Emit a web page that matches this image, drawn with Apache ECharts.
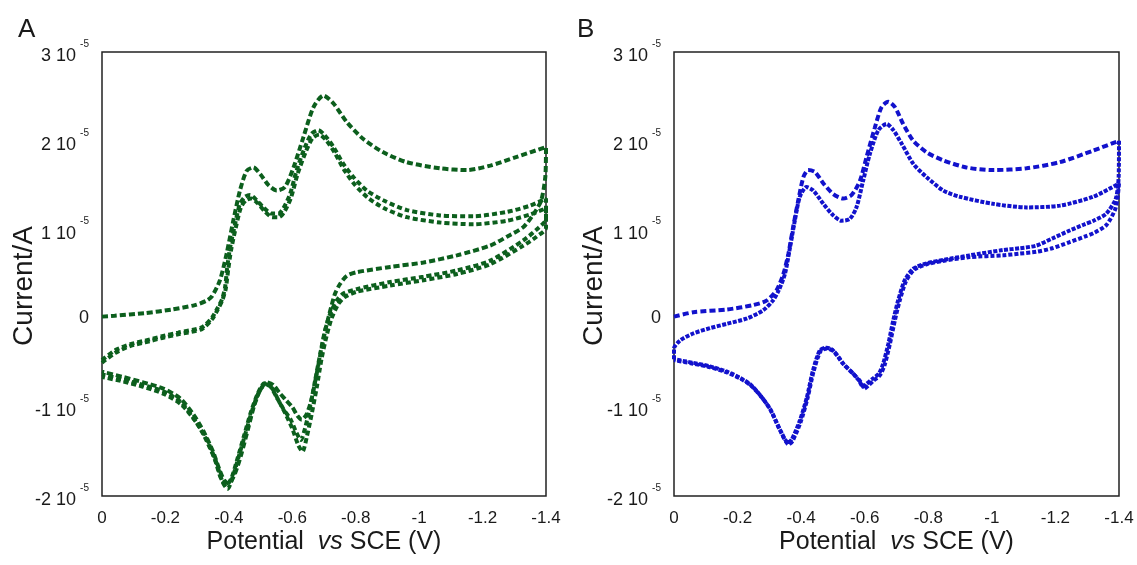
<!DOCTYPE html>
<html>
<head>
<meta charset="utf-8">
<title>CV A / B</title>
<script src="https://cdn.jsdelivr.net/npm/echarts@6/dist/echarts.min.js"></script>
<style>
  html, body { margin: 0; padding: 0; background: #fff; }
  #chart { width: 1137px; height: 565px; }
</style>
</head>
<body>
<div id="chart"></div>
<script>
// potentials in V, currents in units of 1e-5 A
var xTicks = [0, -0.2, -0.4, -0.6, -0.8, -1, -1.2, -1.4];
var yTicks = [-2, -1, 0, 1, 2, 3];

// panel A, green, three cycles (forward 0 -> -1.4, then back to 0)
var aCycle1 = [
  [0, 0.02], [-0.04, 0.03], [-0.136, 0.06], [-0.22, 0.10], [-0.293, 0.15], [-0.33, 0.2], [-0.347, 0.25],
  [-0.372, 0.43], [-0.393, 0.73], [-0.414, 1.10], [-0.435, 1.44], [-0.456, 1.66], [-0.477, 1.70],
  [-0.50, 1.62], [-0.525, 1.50], [-0.551, 1.44], [-0.577, 1.48], [-0.604, 1.70], [-0.635, 2.04],
  [-0.667, 2.38], [-0.698, 2.51], [-0.73, 2.42], [-0.772, 2.21], [-0.824, 2.02], [-0.887, 1.87],
  [-0.96, 1.76], [-1.066, 1.69], [-1.15, 1.67], [-1.224, 1.72], [-1.308, 1.82], [-1.40, 1.93],
  [-1.398, 1.6], [-1.385, 1.33], [-1.36, 1.17], [-1.329, 1.03], [-1.277, 0.92], [-1.224, 0.82],
  [-1.119, 0.71], [-1.014, 0.63], [-0.909, 0.58], [-0.803, 0.52], [-0.772, 0.48], [-0.751, 0.39],
  [-0.735, 0.28], [-0.722, 0.12], [-0.705, -0.12], [-0.69, -0.38], [-0.675, -0.66], [-0.66, -0.92],
  [-0.645, -1.08], [-0.63, -1.14], [-0.617, -1.1], [-0.60, -1.0], [-0.58, -0.92], [-0.56, -0.84],
  [-0.54, -0.75], [-0.52, -0.72], [-0.50, -0.8], [-0.48, -0.98], [-0.46, -1.25], [-0.44, -1.52],
  [-0.42, -1.74], [-0.40, -1.86], [-0.385, -1.82], [-0.37, -1.7], [-0.35, -1.5], [-0.32, -1.27],
  [-0.288, -1.08], [-0.246, -0.90], [-0.193, -0.79], [-0.13, -0.72], [-0.067, -0.66], [0, -0.60]
];
var aCycle2 = [
  [0, -0.47], [-0.041, -0.36], [-0.09, -0.29], [-0.136, -0.25], [-0.19, -0.2], [-0.24, -0.16],
  [-0.315, -0.10], [-0.347, 0.01], [-0.365, 0.12], [-0.379, 0.22], [-0.388, 0.35], [-0.395, 0.58],
  [-0.404, 0.80], [-0.42, 1.07], [-0.435, 1.29], [-0.451, 1.37], [-0.467, 1.39], [-0.488, 1.33],
  [-0.509, 1.25], [-0.535, 1.18], [-0.556, 1.18], [-0.572, 1.24], [-0.593, 1.40], [-0.614, 1.67],
  [-0.640, 1.93], [-0.661, 2.08], [-0.682, 2.12], [-0.703, 2.06], [-0.73, 1.93], [-0.761, 1.74],
  [-0.793, 1.59], [-0.835, 1.44], [-0.887, 1.33], [-0.961, 1.22], [-1.066, 1.16], [-1.171, 1.15],
  [-1.277, 1.20], [-1.35, 1.27], [-1.40, 1.35],
  [-1.40, 1.12], [-1.37, 1.0], [-1.329, 0.88], [-1.224, 0.65], [-1.119, 0.54], [-1.014, 0.47],
  [-0.909, 0.41], [-0.803, 0.33], [-0.761, 0.28], [-0.74, 0.20], [-0.719, 0.05], [-0.703, -0.14],
  [-0.688, -0.40], [-0.672, -0.70], [-0.656, -1.00], [-0.640, -1.24], [-0.627, -1.37], [-0.612, -1.28],
  [-0.595, -1.14], [-0.572, -1.02], [-0.551, -0.89], [-0.530, -0.76], [-0.512, -0.73], [-0.492, -0.84],
  [-0.47, -1.05], [-0.448, -1.32], [-0.427, -1.58], [-0.408, -1.80], [-0.392, -1.88], [-0.375, -1.80],
  [-0.355, -1.58], [-0.322, -1.32], [-0.29, -1.13], [-0.248, -0.94], [-0.193, -0.82], [-0.13, -0.75],
  [-0.067, -0.69], [0, -0.63]
];
var aCycle3 = [
  [0, -0.50], [-0.041, -0.39], [-0.09, -0.31], [-0.136, -0.27], [-0.19, -0.22], [-0.24, -0.18],
  [-0.315, -0.12], [-0.347, -0.01], [-0.365, 0.10], [-0.379, 0.20], [-0.39, 0.33], [-0.398, 0.55],
  [-0.407, 0.77], [-0.423, 1.04], [-0.438, 1.25], [-0.454, 1.33], [-0.47, 1.35], [-0.49, 1.30],
  [-0.512, 1.21], [-0.537, 1.14], [-0.558, 1.14], [-0.575, 1.20], [-0.596, 1.36], [-0.617, 1.63],
  [-0.643, 1.88], [-0.664, 2.03], [-0.685, 2.07], [-0.706, 2.01], [-0.733, 1.87], [-0.764, 1.67],
  [-0.796, 1.51], [-0.838, 1.36], [-0.89, 1.24], [-0.961, 1.14], [-1.066, 1.08], [-1.171, 1.06],
  [-1.277, 1.10], [-1.35, 1.17], [-1.40, 1.24],
  [-1.40, 1.02], [-1.37, 0.92], [-1.329, 0.82], [-1.224, 0.61], [-1.119, 0.50], [-1.014, 0.43],
  [-0.909, 0.37], [-0.803, 0.30], [-0.765, 0.24], [-0.745, 0.16], [-0.724, 0.0], [-0.708, -0.2],
  [-0.692, -0.46], [-0.677, -0.78], [-0.661, -1.08], [-0.646, -1.33], [-0.632, -1.50], [-0.618, -1.42],
  [-0.60, -1.24], [-0.578, -1.07], [-0.556, -0.92], [-0.535, -0.78], [-0.515, -0.74], [-0.495, -0.83],
  [-0.474, -1.03], [-0.452, -1.30], [-0.43, -1.57], [-0.411, -1.80], [-0.396, -1.92], [-0.38, -1.84],
  [-0.36, -1.62], [-0.33, -1.36], [-0.295, -1.16], [-0.25, -0.97], [-0.195, -0.85], [-0.13, -0.77],
  [-0.067, -0.71], [0, -0.66]
];

// panel B, blue, two cycles split in forward / reverse scans
var bForward1 = [
  [0, 0.02], [-0.061, 0.07], [-0.166, 0.10], [-0.249, 0.15], [-0.291, 0.20], [-0.323, 0.32],
  [-0.344, 0.50], [-0.36, 0.73], [-0.375, 1.03], [-0.391, 1.33], [-0.407, 1.59], [-0.422, 1.67],
  [-0.443, 1.65], [-0.47, 1.52], [-0.501, 1.40], [-0.532, 1.35], [-0.559, 1.39], [-0.585, 1.55],
  [-0.606, 1.82], [-0.632, 2.15], [-0.653, 2.38], [-0.674, 2.44], [-0.695, 2.38], [-0.721, 2.19],
  [-0.753, 2.00], [-0.795, 1.87], [-0.847, 1.78], [-0.92, 1.70], [-1.004, 1.67], [-1.109, 1.69],
  [-1.214, 1.76], [-1.319, 1.89], [-1.40, 2.00]
];
var bReverse1 = [
  [-1.40, 2.00], [-1.399, 1.6], [-1.39, 1.35], [-1.36, 1.18], [-1.32, 1.10], [-1.292, 1.06],
  [-1.245, 0.99], [-1.19, 0.90], [-1.14, 0.82], [-1.088, 0.79], [-1.035, 0.77], [-0.93, 0.71],
  [-0.85, 0.66], [-0.795, 0.62], [-0.753, 0.56], [-0.726, 0.43], [-0.705, 0.20], [-0.69, -0.02],
  [-0.674, -0.29], [-0.658, -0.51], [-0.645, -0.62], [-0.625, -0.68], [-0.605, -0.74], [-0.595, -0.77],
  [-0.582, -0.70], [-0.563, -0.62], [-0.532, -0.51], [-0.50, -0.36], [-0.48, -0.33], [-0.459, -0.36],
  [-0.437, -0.59], [-0.418, -0.89], [-0.396, -1.15], [-0.371, -1.36], [-0.359, -1.40], [-0.333, -1.25],
  [-0.302, -1.02], [-0.27, -0.86], [-0.239, -0.74], [-0.208, -0.67], [-0.167, -0.60], [-0.113, -0.54],
  [-0.06, -0.50], [0, -0.46]
];
var bForward2 = [
  [0, -0.46], [0, -0.34], [-0.019, -0.25], [-0.06, -0.17], [-0.113, -0.11], [-0.167, -0.06], [-0.23, 0.0],
  [-0.28, 0.09], [-0.311, 0.2], [-0.33, 0.32], [-0.349, 0.50], [-0.365, 0.80], [-0.38, 1.10],
  [-0.396, 1.37], [-0.417, 1.48], [-0.438, 1.44], [-0.47, 1.29], [-0.501, 1.16], [-0.527, 1.10],
  [-0.553, 1.12], [-0.574, 1.25], [-0.595, 1.55], [-0.616, 1.85], [-0.643, 2.12], [-0.669, 2.19],
  [-0.69, 2.12], [-0.716, 1.97], [-0.753, 1.74], [-0.795, 1.59], [-0.847, 1.44], [-0.899, 1.37],
  [-1.004, 1.29], [-1.109, 1.25], [-1.214, 1.27], [-1.319, 1.37], [-1.40, 1.52]
];
var bReverse2 = [
  [-1.40, 1.52], [-1.39, 1.25], [-1.36, 1.05], [-1.32, 0.96], [-1.292, 0.92], [-1.245, 0.86],
  [-1.19, 0.79], [-1.14, 0.75], [-1.088, 0.73], [-1.035, 0.71], [-0.93, 0.69], [-0.85, 0.65],
  [-0.795, 0.61], [-0.756, 0.55], [-0.73, 0.42], [-0.71, 0.2], [-0.695, -0.02], [-0.679, -0.29],
  [-0.663, -0.52], [-0.648, -0.64], [-0.628, -0.70], [-0.61, -0.76], [-0.60, -0.79], [-0.586, -0.71],
  [-0.566, -0.63], [-0.535, -0.52], [-0.503, -0.37], [-0.482, -0.34], [-0.461, -0.37], [-0.439, -0.60],
  [-0.42, -0.90], [-0.398, -1.17], [-0.373, -1.38], [-0.361, -1.42], [-0.335, -1.27], [-0.304, -1.03],
  [-0.272, -0.87], [-0.24, -0.75], [-0.21, -0.68], [-0.168, -0.61], [-0.114, -0.55], [-0.06, -0.51],
  [0, -0.47]
];

var GREEN = '#0c5f1d';
var BLUE = '#1212cc';
var TXT = '#1a1a1a';
var FONT = '"Liberation Sans", Arial, sans-serif';

function curve(data, color, dash, idx) {
  return {
    type: 'line',
    xAxisIndex: idx,
    yAxisIndex: idx,
    data: data,
    symbol: 'none',
    showSymbol: false,
    smooth: 0.25,
    clip: false,
    silent: true,
    lineStyle: { color: color, width: 4, type: dash, cap: 'butt' }
  };
}

function xAxisFor(idx) {
  return {
    gridIndex: idx,
    type: 'value',
    min: xTicks[xTicks.length - 1],
    max: xTicks[0],
    interval: 0.2,
    inverse: true,
    axisLine: { show: false },
    axisTick: { show: false },
    splitLine: { show: false },
    axisLabel: {
      margin: 14,
      fontSize: 17,
      color: TXT,
      fontFamily: FONT,
      formatter: function (v) { return v === 0 ? '0' : String(+v.toFixed(1)); }
    },
    name: '{a|Potential  }{i|vs}{a| SCE (V)}',
    nameLocation: 'middle',
    nameGap: 34,
    nameMoveOverlap: false,
    nameTextStyle: {
      rich: {
        a: { fontSize: 25, color: TXT, fontFamily: FONT },
        i: { fontSize: 25, color: TXT, fontFamily: FONT, fontStyle: 'italic' }
      }
    }
  };
}

function yAxisFor(idx, gap) {
  return {
    gridIndex: idx,
    type: 'value',
    min: yTicks[0],
    max: yTicks[yTicks.length - 1],
    interval: 1,
    axisLine: { show: false },
    axisTick: { show: false },
    splitLine: { show: false },
    axisLabel: {
      margin: 13,
      formatter: function (v) {
        return v === 0 ? '{z|0}' : '{n|' + v + ' 10}{s|-5}';
      },
      rich: {
        z: { fontSize: 18, color: TXT, fontFamily: FONT },
        n: { fontSize: 18, color: TXT, fontFamily: FONT, padding: [8, 0, 0, 0] },
        s: { fontSize: 10, color: TXT, fontFamily: FONT, padding: [0, 0, 16, 4] }
      }
    },
    name: 'Current/A',
    nameLocation: 'middle',
    nameGap: gap,
    nameMoveOverlap: false,
    nameTextStyle: { fontSize: 28, color: TXT, fontFamily: FONT, padding: [0, 24, 0, 0] }
  };
}

var chart = echarts.init(document.getElementById('chart'), null, { renderer: 'canvas' });

var option = {
  backgroundColor: '#fff',
  animation: false,
  title: [
    { text: 'A', left: 13, top: 12, textStyle: { fontSize: 26, fontWeight: 'normal', color: TXT, fontFamily: FONT } },
    { text: 'B', left: 572, top: 12, textStyle: { fontSize: 26, fontWeight: 'normal', color: TXT, fontFamily: FONT } }
  ],
  grid: [
    { left: 102, top: 52, width: 444, height: 444, show: true, borderColor: '#222', borderWidth: 1.5, backgroundColor: 'transparent' },
    { left: 674, top: 52, width: 445, height: 444, show: true, borderColor: '#222', borderWidth: 1.5, backgroundColor: 'transparent' }
  ],
  xAxis: [xAxisFor(0), xAxisFor(1)],
  yAxis: [yAxisFor(0, 64), yAxisFor(1, 66)],
  series: [
    curve(aCycle1, GREEN, [6, 3], 0),
    curve(aCycle2, GREEN, [5, 3], 0),
    curve(aCycle3, GREEN, [5, 3], 0),
    curve(bForward1, BLUE, [6, 3], 1),
    curve(bReverse1, BLUE, [4, 1.5], 1),
    curve(bForward2, BLUE, [4, 1.5], 1),
    curve(bReverse2, BLUE, [4, 2], 1)
  ]
};

chart.setOption(option);
</script>
</body>
</html>
